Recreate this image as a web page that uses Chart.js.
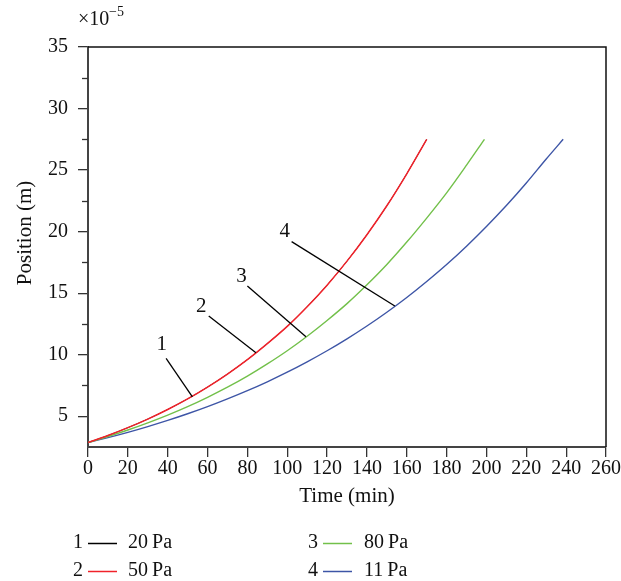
<!DOCTYPE html>
<html>
<head>
<meta charset="utf-8">
<script src="https://cdn.jsdelivr.net/npm/chart.js@4/dist/chart.umd.min.js"></script>
<style>html,body{margin:0;padding:0;background:#fff}</style>
</head>
<body>
<canvas id="posChart" width="621" height="581"></canvas>
<script>
// values (position in units of 1e-5 m)
const time20 = [0, 10, 20, 30, 40, 50, 60, 70, 80, 90, 100, 110, 120, 130, 140, 150, 160, 170];
const pos20 = [2.86, 3.43, 4.07, 4.77, 5.55, 6.41, 7.37, 8.43, 9.6, 10.9, 12.3, 13.9, 15.65, 17.6, 19.75, 22.1, 24.7, 27.5];
const time50 = [0, 10, 20, 30, 40, 50, 60, 70, 80, 90, 100, 110, 120, 130, 140, 150, 160, 170];
const pos50 = [2.86, 3.43, 4.07, 4.77, 5.55, 6.41, 7.37, 8.43, 9.6, 10.9, 12.3, 13.9, 15.65, 17.6, 19.75, 22.1, 24.7, 27.5];
const time80 = [0, 10, 20, 30, 40, 50, 60, 70, 80, 90, 100, 110, 120, 130, 140, 150, 160, 170, 180, 190, 199];
const pos80 = [2.86, 3.35, 3.88, 4.46, 5.09, 5.78, 6.54, 7.36, 8.26, 9.25, 10.32, 11.5, 12.78, 14.15, 15.68, 17.33, 19.15, 21.1, 23.15, 25.4, 27.5];
const time11 = [0, 10, 20, 30, 40, 50, 60, 70, 80, 90, 100, 110, 120, 130, 140, 150, 160, 170, 180, 190, 200, 210, 220, 230, 238.5];
const pos11 = [2.86, 3.26, 3.69, 4.16, 4.66, 5.2, 5.78, 6.41, 7.08, 7.8, 8.58, 9.42, 10.32, 11.29, 12.33, 13.45, 14.65, 15.95, 17.33, 18.82, 20.42, 22.12, 23.95, 25.9, 27.5];

const seriesNames = ['20 Pa', '50 Pa', '80 Pa', '11 Pa'];
const xTicks = [0, 20, 40, 60, 80, 100, 120, 140, 160, 180, 200, 220, 240, 260];
const yTicks = [5, 10, 15, 20, 25, 30, 35];
const yMinorTicks = [7.5, 12.5, 17.5, 22.5, 27.5, 32.5];

// numbered callouts: label position, leader start, leader end (on the curve)
const calloutText = ['1', '2', '3', '4'];
const calloutLabel = [[37, 10.86], [56.8, 13.9], [77.1, 16.35], [98.8, 20.0]];
const calloutFrom = [[39.2, 9.7], [60.6, 13.14], [80, 15.59], [102.2, 19.19]];
const calloutTo = [[52.4, 6.57], [84.3, 10.15], [109.4, 11.46], [154, 13.96]];

const colors = ['#000000', '#f0222a', '#72c04a', '#3d55a6'];
const serif = '"Liberation Serif", "DejaVu Serif", serif';

function pts(xs, ys) {
    return xs.map((x, i) => ({x: x, y: ys[i]}));
}

const decorPlugin = {
    id: 'decor',
    afterDraw(chart) {
        const {ctx, chartArea: {left, top, right, bottom}} = chart;
        const xs = chart.scales.x, ys = chart.scales.y;
        ctx.save();

        // top and right frame
        ctx.strokeStyle = '#111';
        ctx.lineWidth = 1.5;
        ctx.beginPath();
        ctx.moveTo(left, top);
        ctx.lineTo(right, top);
        ctx.lineTo(right, bottom);
        ctx.stroke();

        // minor y ticks
        ctx.strokeStyle = '#333';
        ctx.lineWidth = 1.3;
        yMinorTicks.forEach(v => {
            const py = Math.round(ys.getPixelForValue(v)) + 0.5;
            ctx.beginPath();
            ctx.moveTo(left - 6, py);
            ctx.lineTo(left, py);
            ctx.stroke();
        });

        // callouts
        ctx.strokeStyle = '#000';
        ctx.lineWidth = 1.3;
        ctx.fillStyle = '#111';
        ctx.font = '21px ' + serif;
        ctx.textAlign = 'center';
        ctx.textBaseline = 'middle';
        calloutText.forEach((t, i) => {
            ctx.beginPath();
            ctx.moveTo(xs.getPixelForValue(calloutFrom[i][0]), ys.getPixelForValue(calloutFrom[i][1]));
            ctx.lineTo(xs.getPixelForValue(calloutTo[i][0]), ys.getPixelForValue(calloutTo[i][1]));
            ctx.stroke();
            ctx.fillText(t, xs.getPixelForValue(calloutLabel[i][0]), ys.getPixelForValue(calloutLabel[i][1]));
        });

        // axis titles
        ctx.font = '21px ' + serif;
        ctx.fillText('Time (min)', (left + right) / 2, 496);
        ctx.save();
        ctx.translate(25, (top + bottom) / 2 - 14);
        ctx.rotate(-Math.PI / 2);
        ctx.fillText('Position (m)', 0, 0);
        ctx.restore();

        // exponent marker
        ctx.textAlign = 'left';
        ctx.font = '20px ' + serif;
        ctx.fillText('\u00d710', 78, 20);
        ctx.font = '14px ' + serif;
        ctx.fillText('\u22125', 109, 12);

        // legend
        const cols = [[73, 88, 128], [308, 323, 364]];
        const rows = [543, 571];
        seriesNames.forEach((name, i) => {
            const c = cols[Math.floor(i / 2)], ry = rows[i % 2];
            ctx.font = '20px ' + serif;
            ctx.fillStyle = '#111';
            ctx.textAlign = 'left';
            ctx.fillText(String(i + 1), c[0], ry);
            ctx.strokeStyle = colors[i];
            ctx.lineWidth = 1.5;
            ctx.beginPath();
            ctx.moveTo(c[1], ry + 0.5);
            ctx.lineTo(c[1] + 29, ry + 0.5);
            ctx.stroke();
            ctx.fillText(name.replace(' ', '\u2009'), c[2], ry);
        });
        ctx.restore();
    }
};

const lineDs = (label, data, color, order, width) => ({
    label: label,
    data: data,
    borderColor: color,
    borderWidth: width,
    pointRadius: 0,
    cubicInterpolationMode: 'monotone',
    fill: false,
    order: order
});

new Chart(document.getElementById('posChart').getContext('2d'), {
    type: 'line',
    data: {
        datasets: [
            lineDs(seriesNames[0], pts(time20, pos20), colors[0], 3, 0.8),
            lineDs(seriesNames[1], pts(time50, pos50), colors[1], 0, 1.5),
            lineDs(seriesNames[2], pts(time80, pos80), colors[2], 1, 1.4),
            lineDs(seriesNames[3], pts(time11, pos11), colors[3], 2, 1.4)
        ]
    },
    options: {
        responsive: false,
        animation: false,
        devicePixelRatio: 1,
        layout: {padding: {left: 0, top: 47, right: 14, bottom: 0}},
        plugins: {legend: {display: false}, tooltip: {enabled: false}},
        scales: {
            x: {
                type: 'linear',
                min: 0,
                max: 260,
                afterBuildTicks: s => { s.ticks = xTicks.map(v => ({value: v})); },
                afterFit: s => { s.height = 134; },
                grid: {drawOnChartArea: false, tickLength: 10, color: '#333', lineWidth: 1.3},
                border: {color: '#444', width: 2},
                ticks: {font: {family: serif, size: 20}, color: '#111', padding: 0, maxRotation: 0}
            },
            y: {
                type: 'linear',
                min: 2.5,
                max: 35,
                afterBuildTicks: s => { s.ticks = yTicks.map(v => ({value: v})); },
                afterFit: s => { s.width = 88; },
                grid: {drawOnChartArea: false, tickLength: 10, color: '#333', lineWidth: 1.3},
                border: {color: '#444', width: 2},
                ticks: {font: {family: serif, size: 20}, color: '#111', padding: 10}
            }
        }
    },
    plugins: [decorPlugin]
});
</script>
</body>
</html>
